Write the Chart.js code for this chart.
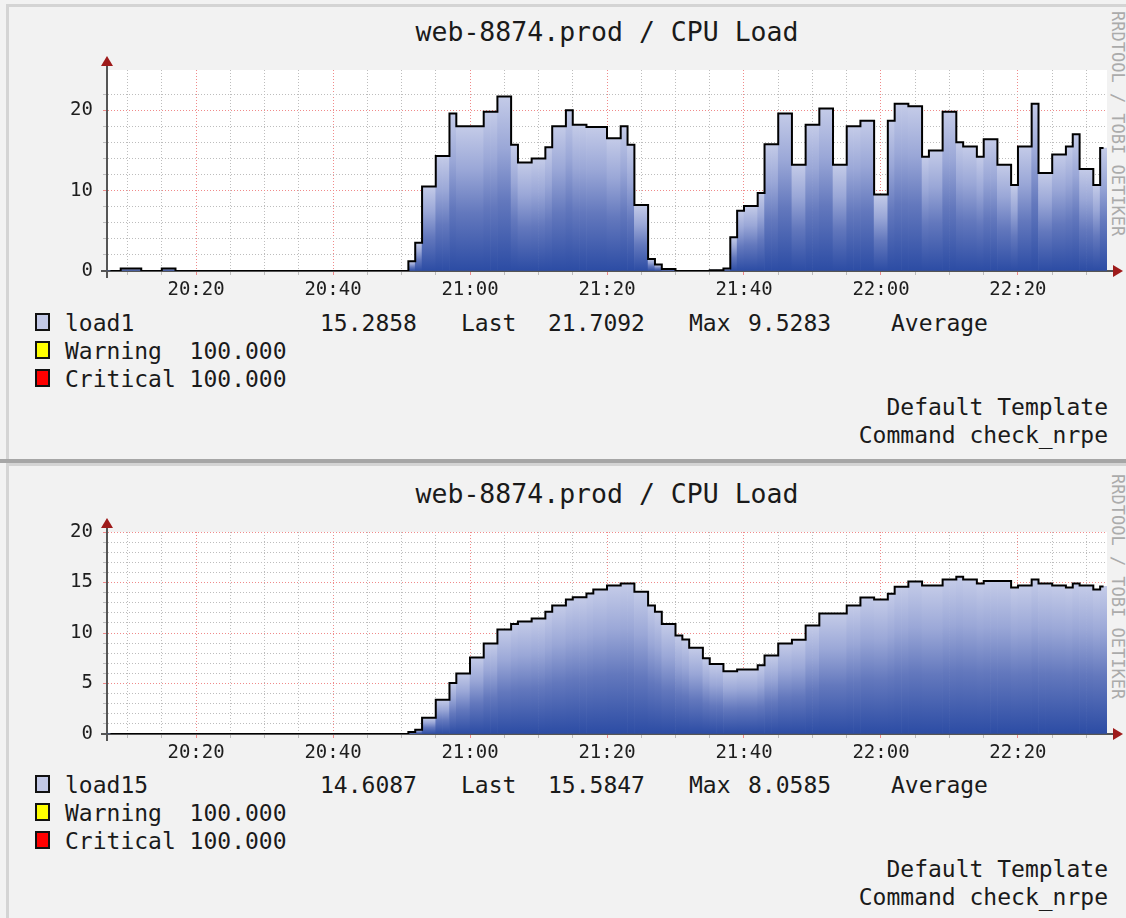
<!DOCTYPE html>
<html>
<head>
<title>web-8874.prod / CPU Load</title>
<style>
  body { margin: 0; background: #f2f2f2; width: 1126px; height: 918px; position: relative; overflow: hidden;
         font-family: 'DejaVu Sans Mono', monospace; color: #1a1a1a; }
  .panel { position: absolute; left: 6px; width: 1120px; box-sizing: border-box; background: #f2f2f2;
           border-top: 3px solid #d4d4d4; border-left: 3px solid #d4d4d4; }
  .sep { position: absolute; left: 0; width: 1126px; top: 459px; height: 4px; background: #a6a6a6; }
  canvas { position: absolute; left: 0; }
  .title { position: absolute; left: 107px; width: 1000px; text-align: center; font-size: 26.5px; line-height: 31px; white-space: pre; }
  .txt { position: absolute; font-size: 23px; line-height: 28px; white-space: pre; }
  .right { right: 18px; text-align: right; }
  .sw { position: absolute; left: 35px; width: 15px; height: 18px; box-sizing: border-box; border: 2px solid #111; }
  .rrd { position: absolute; left: 1109px; writing-mode: vertical-rl; font-size: 17px; line-height: 17px; color: #ababab; white-space: pre; }
</style>
</head>
<body>

<div class="panel" style="top:4px; height:455px;"></div>
<div class="sep"></div>
<div class="panel" style="top:463px; height:455px;"></div>

<div class="title" style="top:16px;">web-8874.prod / CPU Load</div>
<div class="rrd" style="top:11px;">RRDTOOL / TOBI OETIKER</div>
<canvas id="chart1" width="1126" height="305" style="top:0px;"></canvas>

<div class="sw" style="top:313px; background:#c2c9e7;"></div>
<div class="txt" style="top:309px; left:65px;">load1</div>
<div class="txt" style="top:309px; left:320px;">15.2858</div>
<div class="txt" style="top:309px; left:461px;">Last</div>
<div class="txt" style="top:309px; left:548px;">21.7092</div>
<div class="txt" style="top:309px; left:689px;">Max</div>
<div class="txt" style="top:309px; left:748px;">9.5283</div>
<div class="txt" style="top:309px; left:891px;">Average</div>
<div class="sw" style="top:341px; background:#ffff00;"></div>
<div class="txt" style="top:337px; left:65px;">Warning  100.000</div>
<div class="sw" style="top:369px; background:#ff0000;"></div>
<div class="txt" style="top:365px; left:65px;">Critical 100.000</div>
<div class="txt right" style="top:393px;">Default Template</div>
<div class="txt right" style="top:421px;">Command check_nrpe</div>

<div class="title" style="top:478px;">web-8874.prod / CPU Load</div>
<div class="rrd" style="top:474px;">RRDTOOL / TOBI OETIKER</div>
<canvas id="chart2" width="1126" height="305" style="top:460px;"></canvas>

<div class="sw" style="top:775px; background:#c2c9e7;"></div>
<div class="txt" style="top:771px; left:65px;">load15</div>
<div class="txt" style="top:771px; left:320px;">14.6087</div>
<div class="txt" style="top:771px; left:461px;">Last</div>
<div class="txt" style="top:771px; left:548px;">15.5847</div>
<div class="txt" style="top:771px; left:689px;">Max</div>
<div class="txt" style="top:771px; left:748px;">8.0585</div>
<div class="txt" style="top:771px; left:891px;">Average</div>
<div class="sw" style="top:803px; background:#ffff00;"></div>
<div class="txt" style="top:799px; left:65px;">Warning  100.000</div>
<div class="sw" style="top:831px; background:#ff0000;"></div>
<div class="txt" style="top:827px; left:65px;">Critical 100.000</div>
<div class="txt right" style="top:855px;">Default Template</div>
<div class="txt right" style="top:883px;">Command check_nrpe</div>

<script src="https://cdn.jsdelivr.net/npm/chart.js"></script>
<script>
// one column per minute, first column is 20:07
const firstMinute = 7;
const tickLabels = ['20:20', '20:40', '21:00', '21:20', '21:40', '22:00', '22:20'];

const load1 = [
  0, 0, 0.3, 0.3, 0.3, 0, 0, 0, 0.3, 0.3,                       // 20:07
  0, 0, 0, 0, 0, 0, 0, 0, 0, 0,                                  // 20:17
  0, 0, 0, 0, 0, 0, 0, 0, 0, 0,                                  // 20:27
  0, 0, 0, 0, 0, 0, 0, 0, 0, 0,                                  // 20:37
  0, 0, 0, 0, 1.2, 3.5, 10.5, 10.5, 14.3, 14.3,                  // 20:47
  19.6, 18.0, 18.0, 18.0, 18.0, 19.8, 19.8, 21.71, 21.71, 15.7,  // 20:57
  13.5, 13.5, 14.0, 14.0, 15.4, 18.0, 18.0, 20.0, 18.2, 18.2,    // 21:07
  17.9, 17.9, 17.9, 16.5, 16.5, 18.0, 15.7, 8.2, 8.2, 1.5,       // 21:17
  0.8, 0.25, 0.25, 0, 0, 0, 0, 0, 0.1, 0.1,                      // 21:27
  0.3, 4.2, 7.5, 8.1, 8.1, 9.7, 15.75, 15.75, 19.6, 19.6,        // 21:37
  13.2, 13.2, 18.2, 18.2, 20.2, 20.2, 13.2, 13.2, 18.0, 18.0,    // 21:47
  18.7, 18.7, 9.5, 9.5, 18.7, 20.8, 20.8, 20.5, 20.5, 14.2,      // 21:57
  15.0, 15.0, 19.8, 19.8, 16.0, 15.5, 15.5, 14.2, 16.4, 16.4,    // 22:07
  13.2, 13.2, 10.7, 15.5, 15.5, 20.8, 12.2, 12.2, 14.5, 14.5,    // 22:17
  15.5, 17.0, 12.7, 12.7, 10.7, 15.29                            // 22:27
];

const load15 = [
  0, 0, 0, 0, 0, 0, 0, 0, 0, 0,                                  // 20:07
  0, 0, 0, 0, 0, 0, 0, 0, 0, 0,                                  // 20:17
  0, 0, 0, 0, 0, 0, 0, 0, 0, 0,                                  // 20:27
  0, 0, 0, 0, 0, 0, 0, 0, 0, 0,                                  // 20:37
  0, 0, 0, 0, 0.2, 0.43, 1.6, 1.6, 3.4, 3.4,                     // 20:47
  5.06, 6.0, 6.0, 7.57, 7.57, 8.96, 8.96, 10.35, 10.35, 10.9,    // 20:57
  11.14, 11.14, 11.44, 11.44, 12.1, 12.73, 12.73, 13.32, 13.55, 13.55, // 21:07
  13.92, 14.3, 14.3, 14.7, 14.7, 14.9, 14.9, 14.08, 14.08, 12.73, // 21:17
  12.1, 10.9, 10.9, 9.75, 9.35, 8.53, 8.53, 7.5, 6.94, 6.94,     // 21:27
  6.21, 6.21, 6.38, 6.38, 6.38, 6.8, 7.77, 7.77, 8.96, 8.96,     // 21:37
  9.32, 9.32, 10.74, 10.74, 11.93, 11.93, 11.93, 11.93, 12.73, 12.73, // 21:47
  13.52, 13.52, 13.32, 13.32, 13.89, 14.58, 14.58, 15.1, 15.1, 14.7,  // 21:57
  14.7, 14.7, 15.3, 15.3, 15.58, 15.3, 15.3, 14.9, 15.14, 15.14, // 22:07
  15.14, 15.14, 14.5, 14.7, 14.7, 15.3, 14.9, 14.9, 14.7, 14.7,  // 22:17
  14.5, 14.9, 14.7, 14.7, 14.3, 14.61                            // 22:27
];

// fill colours, top of a column down to zero
const fillStops = [[0, '#c4cbe8'], [0.3, '#9aa7d7'], [0.6, '#6378bd'], [1, '#2c4ca4']];
const majorGrid = '#f08a8a';
const minorGrid = '#bdbdbd';

function hhmm(m) {
  return (20 + Math.floor(m / 60)) + ':' + String(m % 60).padStart(2, '0');
}
const minuteLabels = load1.map((v, i) => hhmm(firstMinute + i));

Chart.defaults.font.family = "'DejaVu Sans Mono', monospace";

// each column gets its own gradient, light at the top, dark at zero
function columnFill(ctx) {
  const chart = ctx.chart;
  if (ctx.type !== 'data' || !chart.scales.y) return fillStops[0][1];
  const y = chart.scales.y;
  const top = y.getPixelForValue(ctx.raw);
  const base = y.getPixelForValue(0);
  if (!isFinite(top) || !isFinite(base)) return fillStops[0][1];
  if (base - top < 1) return fillStops[3][1];
  const g = chart.ctx.createLinearGradient(0, top, 0, base);
  fillStops.forEach(s => g.addColorStop(s[0], s[1]));
  return g;
}

const plotDecor = {
  id: 'plotDecor',
  beforeDraw(chart) {
    const a = chart.chartArea, c = chart.ctx;
    c.save();
    c.fillStyle = '#ffffff';
    c.fillRect(a.left, a.top, a.right - a.left, a.bottom - a.top);
    c.restore();
  },
  afterDraw(chart) {
    const a = chart.chartArea, c = chart.ctx;
    const y0 = chart.scales.y.getPixelForValue(0);
    c.save();
    c.strokeStyle = '#555555';
    c.lineWidth = 2;
    c.beginPath();
    c.moveTo(a.left, a.top); c.lineTo(a.left, a.top - 5);
    c.moveTo(a.left, y0); c.lineTo(a.left, y0 + 7);
    c.moveTo(a.left - 6, y0); c.lineTo(a.left, y0);
    c.moveTo(a.right, y0); c.lineTo(a.right + 7, y0);
    c.stroke();
    c.fillStyle = '#9e1b1b';
    c.beginPath();
    c.moveTo(a.left - 6, a.top - 4); c.lineTo(a.left + 6, a.top - 4); c.lineTo(a.left, a.top - 14);
    c.closePath(); c.fill();
    c.beginPath();
    c.moveTo(a.right + 6, y0 - 6); c.lineTo(a.right + 6, y0 + 6); c.lineTo(a.right + 16, y0);
    c.closePath(); c.fill();
    c.restore();
  }
};

function makeChart(id, values, yMax, minorStep, majorStep, padTop, xHeight) {
  return new Chart(document.getElementById(id), {
    type: 'bar',
    data: {
      labels: minuteLabels,
      datasets: [{
        type: 'line',
        data: values,
        stepped: 'middle',
        borderColor: '#000000',
        borderWidth: 2,
        pointRadius: 0,
        fill: false,
        order: 0
      }, {
        type: 'bar',
        data: values,
        backgroundColor: columnFill,
        borderWidth: 0,
        barPercentage: 1,
        categoryPercentage: 1,
        order: 1
      }]
    },
    options: {
      responsive: false,
      animation: false,
      layout: { padding: { top: padTop, right: 19, left: 0, bottom: 0 } },
      plugins: { legend: { display: false }, tooltip: { enabled: false }, title: { display: false } },
      scales: {
        x: {
          type: 'category',
          offset: true,
          grid: {
            offset: true,
            lineWidth: 1,
            tickLength: 4,
            color: ctx => {
              if (!ctx.tick) return 'transparent';
              const m = firstMinute + ctx.tick.value;
              if (m % 20 === 0) return majorGrid;
              return m % 5 === 0 ? minorGrid : 'transparent';
            }
          },
          border: { color: '#555555', width: 2, dash: [1, 2] },
          ticks: {
            autoSkip: false, maxRotation: 0, minRotation: 0, padding: 4, labelOffset: -3.42,
            color: '#1e1e1e', font: { size: 19 },
            callback: (v, i) => tickLabels.includes(minuteLabels[i]) ? minuteLabels[i] : ''
          },
          afterFit: s => { s.height = xHeight; }
        },
        y: {
          min: 0,
          max: yMax,
          grid: {
            lineWidth: 1,
            tickLength: 4,
            color: ctx => {
              if (!ctx.tick) return 'transparent';
              const v = ctx.tick.value;
              if (v % majorStep === 0) return majorGrid;
              return v % minorStep === 0 ? minorGrid : 'transparent';
            }
          },
          border: { color: '#555555', width: 2, dash: [1, 2] },
          ticks: {
            autoSkip: false, stepSize: minorStep, padding: 10, color: '#1e1e1e', font: { size: 19 },
            callback: v => v % majorStep === 0 ? v : ''
          },
          afterFit: s => { s.width = 107; }
        }
      }
    },
    plugins: [plotDecor]
  });
}

makeChart('chart1', load1, 25, 2, 10, 70, 34);
makeChart('chart2', load15, 20, 1, 5, 72, 31);
</script>
</body>
</html>
